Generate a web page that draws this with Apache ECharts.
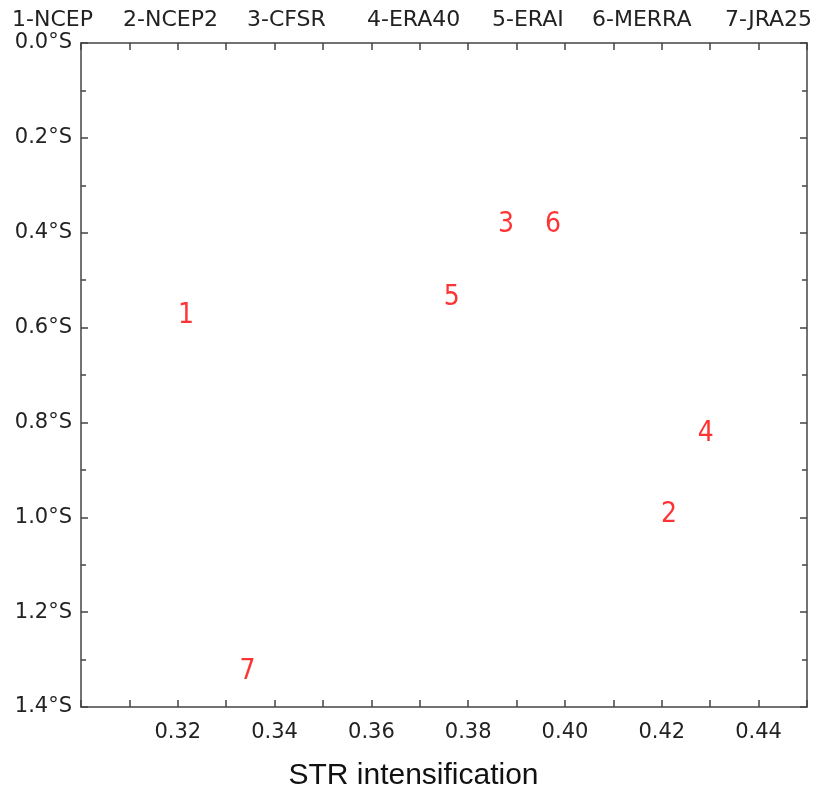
<!DOCTYPE html>
<html>
<head>
<meta charset="utf-8">
<title>STR intensification vs latitude shift</title>
<script src="https://cdn.jsdelivr.net/npm/echarts@6/dist/echarts.min.js"></script>
<style>
  html, body { margin: 0; padding: 0; background: #fff; }
  #chart { width: 827px; height: 791px; }
</style>
</head>
<body>
<div id="chart"></div>
<script>
// Reanalysis datasets, numbered in the order they are listed along the top
const datasetIds = ['1', '2', '3', '4', '5', '6', '7'];
const datasetNames = ['NCEP', 'NCEP2', 'CFSR', 'ERA40', 'ERAI', 'MERRA', 'JRA25'];
// STR intensification (x) and latitude shift in degrees south (y)
const intensification = [0.3217, 0.4215, 0.3878, 0.4291, 0.3766, 0.3975, 0.3344];
const latitudeShift = [0.569, 0.990, 0.378, 0.819, 0.531, 0.378, 1.321];

const xTitle = 'STR intensification';

// Left offsets of the dataset key entries across the top
const keyLeft = [12, 123, 247, 367, 492, 592, 725];

const axisColor = '#444';
const textColor = '#222';
const tickFont = 'DejaVu Sans';

const points = intensification.map((x, i) => ({
  value: [x, latitudeShift[i]],
  name: datasetIds[i]
}));

const chart = echarts.init(document.getElementById('chart'), null, { renderer: 'canvas' });

const frameLine = { show: true, onZero: false, lineStyle: { color: axisColor, width: 1.5 } };

chart.setOption({
  animation: false,
  backgroundColor: '#ffffff',
  grid: { left: 81, right: 20, top: 43, bottom: 84, containLabel: false },
  xAxis: [
    {
      type: 'value', position: 'bottom', min: 0.30, max: 0.45, interval: 0.01,
      axisLine: frameLine,
      axisTick: { show: true, inside: true, length: 7, lineStyle: { color: axisColor, width: 1.5 } },
      splitLine: { show: false },
      axisLabel: {
        interval: 0, margin: 15, color: textColor, fontFamily: tickFont, fontSize: 21,
        showMinLabel: true, showMaxLabel: true,
        formatter: v => {
          const k = Math.round(v * 100);
          return (k % 2 === 0 && k > 30) ? (k / 100).toFixed(2) : '';
        }
      }
    },
    {
      type: 'value', position: 'top', min: 0.30, max: 0.45, interval: 0.01,
      axisLine: frameLine,
      axisTick: { show: true, inside: true, length: 7, lineStyle: { color: axisColor, width: 1.5 } },
      splitLine: { show: false },
      axisLabel: { show: false }
    }
  ],
  yAxis: [
    {
      type: 'value', position: 'left', inverse: true, min: 0, max: 1.4, interval: 0.2,
      axisLine: frameLine,
      axisTick: { show: true, inside: true, length: 7, lineStyle: { color: axisColor, width: 1.5 } },
      minorTick: { show: true, splitNumber: 2, length: 5, lineStyle: { color: axisColor, width: 1.5 } },
      splitLine: { show: false },
      minorSplitLine: { show: false },
      axisLabel: {
        margin: 9, color: textColor, fontFamily: tickFont, fontSize: 21,
        formatter: v => v.toFixed(1) + '°S'
      }
    },
    {
      type: 'value', position: 'right', inverse: true, min: 0, max: 1.4, interval: 0.2,
      axisLine: frameLine,
      axisTick: { show: true, inside: true, length: 7, lineStyle: { color: axisColor, width: 1.5 } },
      minorTick: { show: true, splitNumber: 2, length: 5, lineStyle: { color: axisColor, width: 1.5 } },
      splitLine: { show: false },
      minorSplitLine: { show: false },
      axisLabel: { show: false }
    }
  ],
  series: [
    {
      type: 'scatter',
      xAxisIndex: 0,
      yAxisIndex: 0,
      data: points,
      symbol: 'circle',
      symbolSize: 20,
      itemStyle: { color: 'rgba(0,0,0,0)' },
      label: {
        show: true,
        position: 'inside',
        offset: [0, 2.5],
        formatter: p => p.name,
        color: '#ff0000',
        fontFamily: 'Liberation Sans Narrow, DejaVu Sans Condensed, DejaVu Sans',
        fontSize: 28,
        align: 'center',
        verticalAlign: 'middle'
      },
      emphasis: { disabled: true }
    }
  ],
  graphic: [
    ...datasetNames.map((name, i) => ({
      type: 'text',
      left: keyLeft[i],
      top: 9,
      style: {
        text: datasetIds[i] + '-' + name,
        fill: textColor,
        font: '22px "DejaVu Sans"'
      }
    })),
    {
      type: 'text',
      left: 'center',
      top: 761,
      style: {
        text: xTitle,
        fill: '#111',
        font: '30px "Liberation Sans", Arial, sans-serif'
      }
    }
  ]
});
</script>
</body>
</html>
